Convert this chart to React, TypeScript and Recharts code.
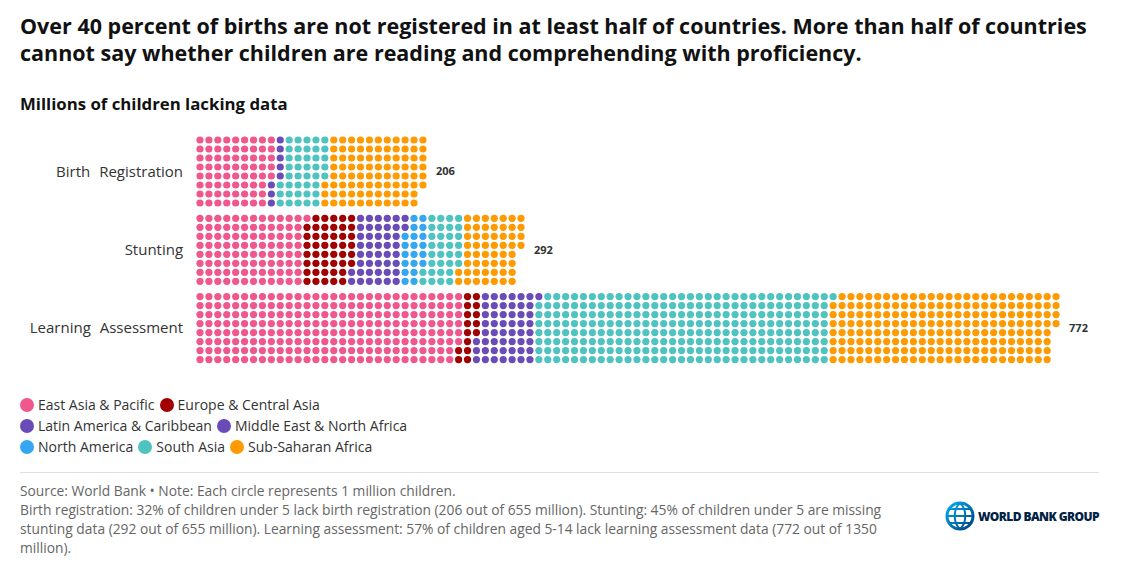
import React from "react";
import { ScatterChart, Scatter, XAxis, YAxis } from "recharts";

const categories = ["Birth Registration", "Stunting", "Learning Assessment"];
const totals = [206, 292, 772];

const regionNames = [
  "East Asia & Pacific",
  "Europe & Central Asia",
  "Latin America & Caribbean",
  "Middle East & North Africa",
  "North America",
  "South Asia",
  "Sub-Saharan Africa",
];
const regionColors = ["#F0578C", "#A10000", "#6A4CB8", "#6A4CB8", "#35A6F0", "#4FC3BF", "#FF9A00"];

// millions of children per category: [Birth Registration, Stunting, Learning Assessment]
const eastAsiaPacific = [69, 97, 238];
const europeCentralAsia = [0, 45, 15];
const latinAmericaCaribbean = [3, 10, 14];
const middleEastNorthAfrica = [5, 34, 38];
const northAmerica = [0, 20, 0];
const southAsia = [40, 32, 264];
const subSaharanAfrica = [89, 54, 203];

const regionValues = [
  eastAsiaPacific,
  europeCentralAsia,
  latinAmericaCaribbean,
  middleEastNorthAfrica,
  northAmerica,
  southAsia,
  subSaharanAfrica,
];

const ROWS = 8;
const GROUP_STEP = 8.7;

// Build waffle points (column-major fill, each circle = 1 million)
const seriesData: { x: number; y: number }[][] = regionNames.map(() => []);
categories.forEach((_, ci) => {
  let k = 0;
  regionValues.forEach((vals, ri) => {
    for (let i = 0; i < vals[ci]; i++) {
      seriesData[ri].push({ x: Math.floor(k / ROWS) + 1, y: ci * GROUP_STEP + (k % ROWS) });
      k++;
    }
  });
});

const totalPoints = totals.map((t, ci) => ({
  x: Math.ceil(t / ROWS),
  y: ci * GROUP_STEP + (ROWS - 1) / 2,
  value: t,
}));

const catTicks = categories.map((_, ci) => ci * GROUP_STEP + (ROWS - 1) / 2);

const FONT = "'Open Sans', 'Noto Sans', sans-serif";

export default function App() {
  return (
    <div
      style={{
        position: "absolute",
        left: 0,
        top: 0,
        width: 1123,
        height: 579,
        background: "#fff",
        fontFamily: FONT,
        color: "#222",
        overflow: "hidden",
      }}
    >
      <div
        style={{
          position: "absolute",
          left: 20,
          top: 12,
          fontSize: 21.5,
          fontWeight: 700,
          lineHeight: "27px",
          color: "#111",
          whiteSpace: "nowrap",
        }}
      >
        Over 40 percent of births are not registered in at least half of countries. More than half of countries
        <br />
        cannot say whether children are reading and comprehending with proficiency.
      </div>
      <div
        style={{
          position: "absolute",
          left: 20,
          top: 92,
          fontSize: 16.8,
          fontWeight: 700,
          lineHeight: "24px",
          color: "#111",
        }}
      >
        Millions of children lacking data
      </div>

      <div style={{ position: "absolute", left: 0, top: 0 }}>
        <ScatterChart width={1123} height={380} margin={{ top: 122, right: 4.5, bottom: 6, left: 0 }}>
          <XAxis type="number" dataKey="x" domain={[0, 104]} hide allowDataOverflow />
          <YAxis
            type="number"
            dataKey="y"
            domain={[-2, 26]}
            reversed
            allowDataOverflow
            width={191.08}
            ticks={catTicks}
            interval={0}
            axisLine={false}
            tickLine={false}
            tickSize={6}
            tickMargin={2}
            tickFormatter={(v: number) => {
              const idx = catTicks.findIndex((t) => Math.abs(t - v) < 0.01);
              return idx >= 0 ? categories[idx] : "";
            }}
            tick={{ fontSize: 15, fill: "#333", fontFamily: FONT, style: { wordSpacing: "5px" } }}
          />
          {regionNames.map((name, ri) => (
            <Scatter
              key={name}
              name={name}
              data={seriesData[ri]}
              isAnimationActive={false}
              shape={(p: any) => <circle cx={p.cx} cy={p.cy} r={3.6} fill={regionColors[ri]} />}
            />
          ))}
          <Scatter
            name="totals"
            data={totalPoints}
            isAnimationActive={false}
            shape={(p: any) => (
              <text
                x={p.cx + 13}
                y={p.cy}
                dy="0.35em"
                fontSize={11}
                fontWeight={700}
                fill="#333"
                fontFamily={FONT}
              >
                {p.payload.value}
              </text>
            )}
          />
        </ScatterChart>
      </div>

      <div
        style={{
          position: "absolute",
          left: 20,
          top: 394,
          width: 420,
          display: "flex",
          flexWrap: "wrap",
          fontSize: 14,
          lineHeight: "21px",
          color: "#333",
        }}
      >
        {regionNames.map((name, ri) => (
          <div key={name} style={{ display: "flex", alignItems: "center", marginRight: 5, height: 21 }}>
            <span
              style={{
                display: "inline-block",
                width: 14,
                height: 14,
                borderRadius: 7,
                background: regionColors[ri],
                marginRight: 4,
              }}
            />
            <span>{name}</span>
          </div>
        ))}
      </div>

      <div style={{ position: "absolute", left: 20, top: 472, width: 1079, height: 1, background: "#ddd" }} />

      <div
        style={{
          position: "absolute",
          left: 20,
          top: 481,
          width: 880,
          fontSize: 13.8,
          lineHeight: "19px",
          color: "#666",
        }}
      >
        <div>Source: World Bank • Note: Each circle represents 1 million children.</div>
        <div>
          Birth registration: 32% of children under 5 lack birth registration (206 out of 655 million). Stunting: 45% of
          children under 5 are missing stunting data (292 out of 655 million). Learning assessment: 57% of children aged
          5-14 lack learning assessment data (772 out of 1350 million).
        </div>
      </div>

      <div style={{ position: "absolute", left: 944, top: 500, display: "flex", alignItems: "center" }}>
        <svg width={32} height={32} viewBox="0 0 32 32">
          <defs>
            <linearGradient id="wbg" x1="0" y1="0" x2="1" y2="1">
              <stop offset="0" stopColor="#00AEEF" />
              <stop offset="1" stopColor="#003F7F" />
            </linearGradient>
          </defs>
          <circle cx={16} cy={16} r={13} fill="none" stroke="url(#wbg)" strokeWidth={3} />
          <path d="M16 3 C9 9 9 23 16 29 M16 3 C23 9 23 23 16 29 M3 16 H29 M6 9 H26 M6 23 H26" fill="none" stroke="url(#wbg)" strokeWidth={2} />
        </svg>
        <span
          style={{
            marginLeft: 2,
            fontSize: 12,
            fontWeight: 800,
            color: "#002244",
            letterSpacing: "-0.6px",
            fontFamily: FONT,
          }}
        >
          WORLD BANK GROUP
        </span>
      </div>
    </div>
  );
}
